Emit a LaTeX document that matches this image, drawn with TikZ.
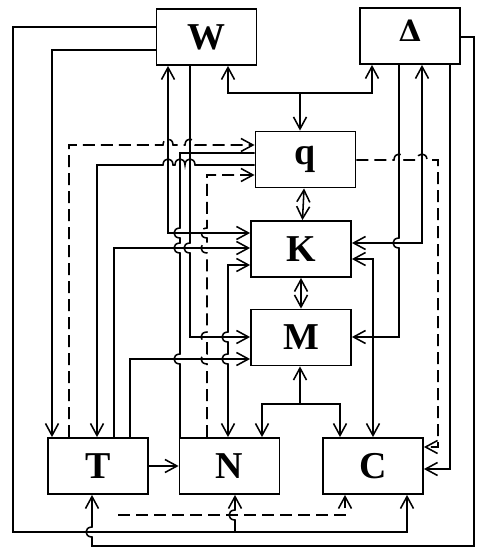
\documentclass[tikz,border=0pt]{standalone}
\usepackage{fontspec}
\setmainfont{Liberation Serif}
\newfontfamily\grk{DejaVu Serif}
\usetikzlibrary{arrows.meta}
\newcommand\hopx[2]{-- (#1-5,#2) .. controls (#1-5,#2-8) and (#1+5,#2-8) .. (#1+5,#2)}
\newcommand\hopy[2]{-- (#1,#2-5) .. controls (#1-8,#2-5) and (#1-8,#2+5) .. (#1,#2+5)}

\begin{document}
\begin{tikzpicture}[x=0.5mm,y=-0.5mm,line width=2.2pt,>={Straight Barb[length=6mm,width=6.5mm]},
  box/.style={draw,line width=2.6pt,minimum width=50mm,minimum height=28mm,inner sep=0pt,font=\fontsize{54}{56}\selectfont\bfseries},
  dsh/.style={dash pattern=on 6mm off 3mm}]
\useasboundingbox (0,0) rectangle (476,548);
\node[box] (nW) at (206.5,37) {W};
\node[box] (nD) at (410,36) {\raisebox{5mm}{\grk\fontsize{42}{44}\selectfont Δ}};
\node[box] (nq) at (305.5,159.5) {q};
\node[box] (nK) at (301,249) {K};
\node[box] (nM) at (301,337.5) {M};
\node[box] (nT) at (98,466) {T};
\node[box] (nN) at (229.5,466) {N};
\node[box] (nC) at (373,466) {C};
% W to C and N along the bottom
\draw[->] (nW.west |- 0,27) -- (13,27) -- (13,532) -- (407,532) -- (nC.south -| 407,0);
\coordinate (bN) at (235,532);
\draw[<-] (nN.south -| 235,0) \hopy{235}{515} -- (bN);
\draw[->] (nW.west |- 0,50) -- (52,50) -- (nT.north -| 52,0);
% Delta to T along the bottom
\draw[<-] (nT.south -| 92,0) \hopy{92}{532} -- (92,546) -- (474,546) -- (474,37) -- (nD.east |- 0,37);
% W, Delta and q
\coordinate (jq) at (300,93);
\draw[<->] (nW.south -| 228,0) -- (228,93) -- (372,93) -- (nD.south -| 372,0);
\draw[->] (jq) -- (nq.north -| jq);
\draw[<->] (nW.south -| 168,0) -- (168,233) -- (nK.west |- 0,233);
\draw[->] (nW.south -| 190,0) \hopy{190}{248} -- (190,337) -- (nM.west |- 0,337);
% left side of q
\draw[->,dsh] (nT.north -| 69,0) -- (69,145) \hopx{168}{145} \hopx{190}{145} -- (nq.west |- 0,145);
\draw[<-] (nT.north -| 97,0) -- (97,165) \hopx{168}{165} \hopx{180}{165} \hopx{190}{165} -- (nq.west |- 0,165);
\draw (nq.west |- 0,153) -- (180,153) \hopy{180}{233} \hopy{180}{248} \hopy{180}{359} -- (nN.north -| 180,0);
\draw[<-,dsh] (nq.west |- 0,175) -- (207,175) \hopy{207}{233} \hopy{207}{248} \hopy{207}{337} \hopy{207}{359} -- (nN.north -| 207,0);
% T to K and M
\draw[->] (nT.north -| 114,0) -- (114,248) -- (nK.west |- 0,248);
\draw[->] (nT.north -| 130,0) -- (130,359) -- (nM.west |- 0,359);
\draw[<->] (nK.west |- 0,265) -- (228,265) \hopy{228}{337} \hopy{228}{359} -- (nN.north -| 228,0);
% M, N and C
\coordinate (jm) at (300,404);
\draw[->] (jm) -- (nM.south -| jm);
\draw[->] (jm) -| (nN.north -| 262,0);
\draw[->] (jm) -| (nC.north -| 340,0);
% right side
\draw[->,dsh] (nq.east |- 0,160) \hopx{399}{160} \hopx{422}{160} -- (438,160) -- (438,447) -- (nC.east |- 0,447);
\draw[->] (nD.south -| 399,0) \hopy{399}{243} -- (399,337) -- (nM.east |- 0,337);
\draw[<->] (nK.east |- 0,243) -- (422,243) -- (nD.south -| 422,0);
\draw[<->] (nK.east |- 0,259) -- (373,259) -- (nC.north -| 373,0);
\draw[->] (nD.south -| 450,0) -- (450,469) -- (nC.east |- 0,469);
\draw[<->] (nK) -- (nq);
\draw[<->] (nK) -- (nM);
% bottom
\draw[->] (nT) -- (nN);
\coordinate (ex) at (118,515);
\draw[->,dsh] (ex) -- (345,515) -- (nC.south -| 345,0);
\end{tikzpicture}
\end{document}
